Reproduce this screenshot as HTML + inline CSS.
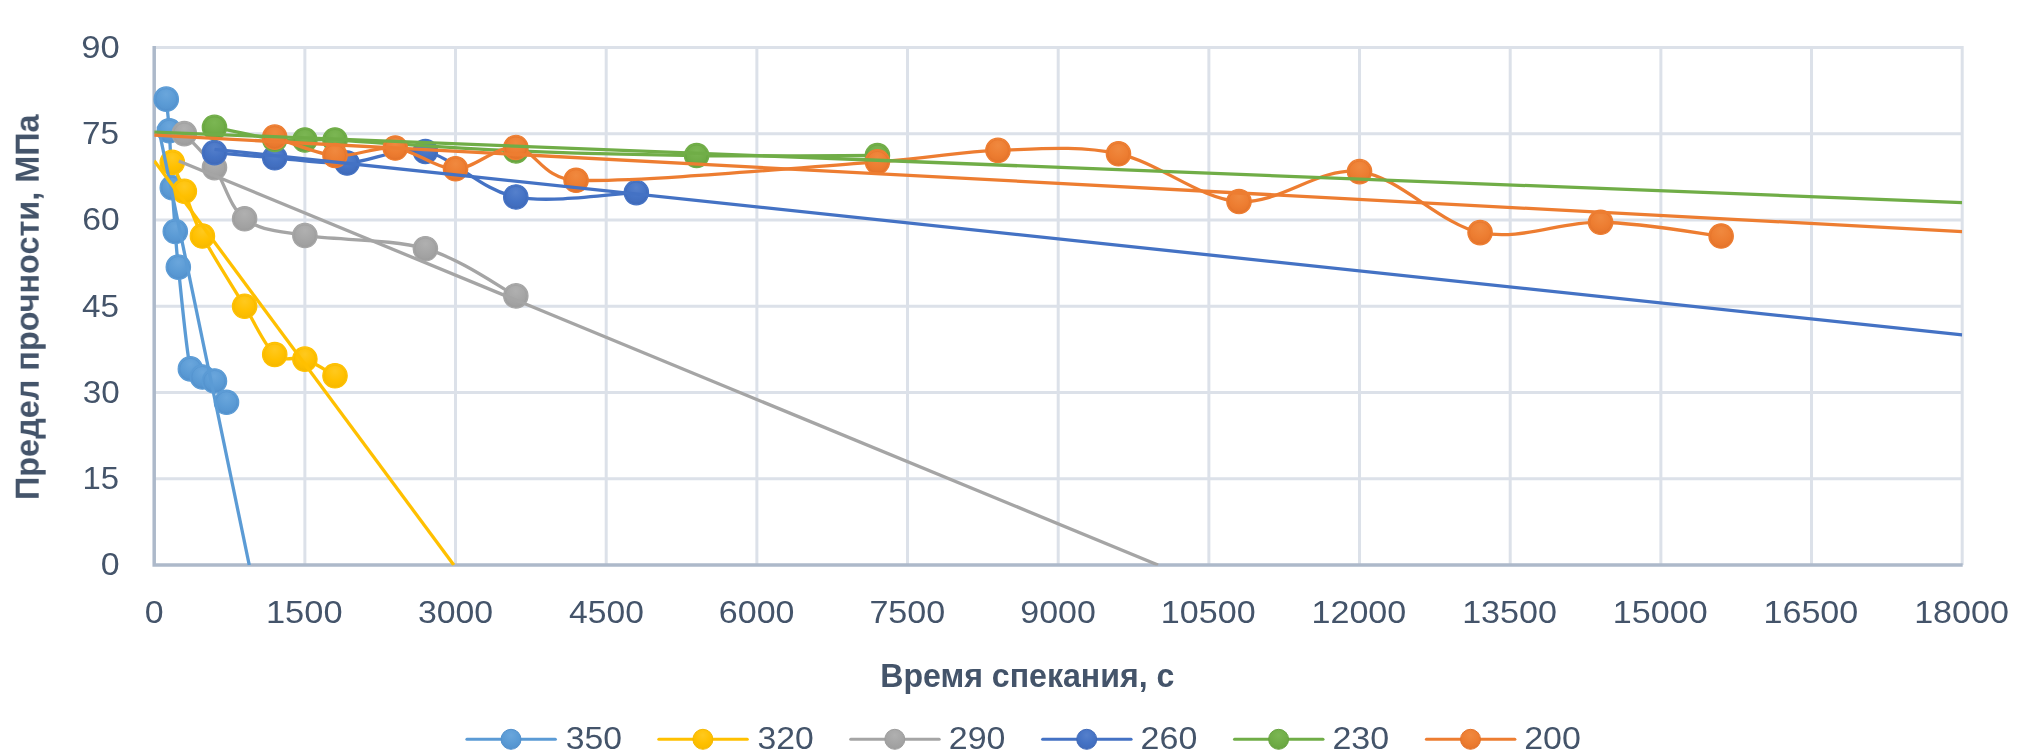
<!DOCTYPE html><html><head><meta charset="utf-8"><style>html,body{margin:0;padding:0;background:#fff;}svg{display:block}text{will-change:transform}</style></head><body>
<svg width="2020" height="756" viewBox="0 0 2020 756">
<defs>
<radialGradient id="g350" cx="0.5" cy="0.3" r="0.75"><stop offset="0" stop-color="#6AA6DC"/><stop offset="0.55" stop-color="#5B9BD5"/><stop offset="1" stop-color="#5290CC"/></radialGradient>
<radialGradient id="g320" cx="0.5" cy="0.3" r="0.75"><stop offset="0" stop-color="#FFC91F"/><stop offset="0.55" stop-color="#FFC000"/><stop offset="1" stop-color="#F5B800"/></radialGradient>
<radialGradient id="g290" cx="0.5" cy="0.3" r="0.75"><stop offset="0" stop-color="#B0B0B0"/><stop offset="0.55" stop-color="#A5A5A5"/><stop offset="1" stop-color="#9C9C9C"/></radialGradient>
<radialGradient id="g260" cx="0.5" cy="0.3" r="0.75"><stop offset="0" stop-color="#5580CC"/><stop offset="0.55" stop-color="#4472C4"/><stop offset="1" stop-color="#3F69B8"/></radialGradient>
<radialGradient id="g230" cx="0.5" cy="0.3" r="0.75"><stop offset="0" stop-color="#7BB653"/><stop offset="0.55" stop-color="#70AD47"/><stop offset="1" stop-color="#66A23F"/></radialGradient>
<radialGradient id="g200" cx="0.5" cy="0.3" r="0.75"><stop offset="0" stop-color="#F0893F"/><stop offset="0.55" stop-color="#ED7D31"/><stop offset="1" stop-color="#E3722A"/></radialGradient>
<clipPath id="pa"><rect x="154.2" y="45.9" width="1808.0" height="519.6"/></clipPath>
</defs>
<rect width="2020" height="756" fill="#fff"/>
<path d="M304.87,47.40V565.00 M455.53,47.40V565.00 M606.20,47.40V565.00 M756.87,47.40V565.00 M907.53,47.40V565.00 M1058.20,47.40V565.00 M1208.87,47.40V565.00 M1359.53,47.40V565.00 M1510.20,47.40V565.00 M1660.87,47.40V565.00 M1811.53,47.40V565.00 M1962.20,47.40V565.00 M154.20,478.73H1963.70 M154.20,392.47H1963.70 M154.20,306.20H1963.70 M154.20,219.93H1963.70 M154.20,133.67H1963.70 M154.20,47.40H1963.70" stroke="#DCE1E9" stroke-width="3" fill="none"/>
<path d="M154.20,45.90V565.00H1962.70" stroke="#ADB9CA" stroke-width="3.5" fill="none"/>
<path d="M166.25,99.16 C166.76,104.43 168.26,116.03 169.27,130.79 C170.27,145.55 171.28,170.95 172.28,187.73 C173.28,204.50 174.29,218.21 175.29,231.44 C176.30,244.66 176.36,249.31 178.31,267.09 C180.82,290.00 186.34,350.58 190.36,368.89 C191.91,375.97 198.40,374.93 202.41,376.94 C206.43,378.95 210.45,376.75 214.47,380.96 C218.48,385.18 224.51,398.70 226.52,402.24" stroke="#5B9BD5" stroke-width="3.3" fill="none" stroke-linejoin="round" stroke-linecap="round"/>
<circle cx="166.25" cy="99.16" r="12.20" fill="url(#g350)" stroke="#5B9BD5" stroke-width="1.2"/>
<circle cx="166.25" cy="99.16" r="10.50" fill="none" stroke="#5290CC" stroke-width="1" stroke-opacity="0.55"/>
<circle cx="169.27" cy="130.79" r="12.20" fill="url(#g350)" stroke="#5B9BD5" stroke-width="1.2"/>
<circle cx="169.27" cy="130.79" r="10.50" fill="none" stroke="#5290CC" stroke-width="1" stroke-opacity="0.55"/>
<circle cx="172.28" cy="187.73" r="12.20" fill="url(#g350)" stroke="#5B9BD5" stroke-width="1.2"/>
<circle cx="172.28" cy="187.73" r="10.50" fill="none" stroke="#5290CC" stroke-width="1" stroke-opacity="0.55"/>
<circle cx="175.29" cy="231.44" r="12.20" fill="url(#g350)" stroke="#5B9BD5" stroke-width="1.2"/>
<circle cx="175.29" cy="231.44" r="10.50" fill="none" stroke="#5290CC" stroke-width="1" stroke-opacity="0.55"/>
<circle cx="178.31" cy="267.09" r="12.20" fill="url(#g350)" stroke="#5B9BD5" stroke-width="1.2"/>
<circle cx="178.31" cy="267.09" r="10.50" fill="none" stroke="#5290CC" stroke-width="1" stroke-opacity="0.55"/>
<circle cx="190.36" cy="368.89" r="12.20" fill="url(#g350)" stroke="#5B9BD5" stroke-width="1.2"/>
<circle cx="190.36" cy="368.89" r="10.50" fill="none" stroke="#5290CC" stroke-width="1" stroke-opacity="0.55"/>
<circle cx="202.41" cy="376.94" r="12.20" fill="url(#g350)" stroke="#5B9BD5" stroke-width="1.2"/>
<circle cx="202.41" cy="376.94" r="10.50" fill="none" stroke="#5290CC" stroke-width="1" stroke-opacity="0.55"/>
<circle cx="214.47" cy="380.96" r="12.20" fill="url(#g350)" stroke="#5B9BD5" stroke-width="1.2"/>
<circle cx="214.47" cy="380.96" r="10.50" fill="none" stroke="#5290CC" stroke-width="1" stroke-opacity="0.55"/>
<circle cx="226.52" cy="402.24" r="12.20" fill="url(#g350)" stroke="#5B9BD5" stroke-width="1.2"/>
<circle cx="226.52" cy="402.24" r="10.50" fill="none" stroke="#5290CC" stroke-width="1" stroke-opacity="0.55"/>
<path d="M172.28,162.42 C174.29,167.21 179.31,178.91 184.33,191.18 C189.36,203.45 192.37,216.87 202.41,236.04 C212.46,255.21 232.55,286.45 244.60,306.20 C256.65,325.95 264.69,345.69 274.73,354.51 C284.78,363.33 294.82,355.56 304.87,359.11 C314.91,362.66 329.98,373.01 335.00,375.79" stroke="#FFC000" stroke-width="3.3" fill="none" stroke-linejoin="round" stroke-linecap="round"/>
<circle cx="172.28" cy="162.42" r="12.20" fill="url(#g320)" stroke="#FFC000" stroke-width="1.2"/>
<circle cx="172.28" cy="162.42" r="10.50" fill="none" stroke="#F5B800" stroke-width="1" stroke-opacity="0.55"/>
<circle cx="184.33" cy="191.18" r="12.20" fill="url(#g320)" stroke="#FFC000" stroke-width="1.2"/>
<circle cx="184.33" cy="191.18" r="10.50" fill="none" stroke="#F5B800" stroke-width="1" stroke-opacity="0.55"/>
<circle cx="202.41" cy="236.04" r="12.20" fill="url(#g320)" stroke="#FFC000" stroke-width="1.2"/>
<circle cx="202.41" cy="236.04" r="10.50" fill="none" stroke="#F5B800" stroke-width="1" stroke-opacity="0.55"/>
<circle cx="244.60" cy="306.20" r="12.20" fill="url(#g320)" stroke="#FFC000" stroke-width="1.2"/>
<circle cx="244.60" cy="306.20" r="10.50" fill="none" stroke="#F5B800" stroke-width="1" stroke-opacity="0.55"/>
<circle cx="274.73" cy="354.51" r="12.20" fill="url(#g320)" stroke="#FFC000" stroke-width="1.2"/>
<circle cx="274.73" cy="354.51" r="10.50" fill="none" stroke="#F5B800" stroke-width="1" stroke-opacity="0.55"/>
<circle cx="304.87" cy="359.11" r="12.20" fill="url(#g320)" stroke="#FFC000" stroke-width="1.2"/>
<circle cx="304.87" cy="359.11" r="10.50" fill="none" stroke="#F5B800" stroke-width="1" stroke-opacity="0.55"/>
<circle cx="335.00" cy="375.79" r="12.20" fill="url(#g320)" stroke="#FFC000" stroke-width="1.2"/>
<circle cx="335.00" cy="375.79" r="10.50" fill="none" stroke="#F5B800" stroke-width="1" stroke-opacity="0.55"/>
<path d="M184.33,133.67 C189.36,139.32 204.42,153.41 214.47,167.60 C224.51,181.78 229.53,207.47 244.60,218.78 C259.67,230.09 274.73,230.48 304.87,235.46 C335.00,240.45 390.24,238.62 425.40,248.69 C460.56,258.75 500.73,287.99 515.80,295.85" stroke="#A5A5A5" stroke-width="3.3" fill="none" stroke-linejoin="round" stroke-linecap="round"/>
<circle cx="184.33" cy="133.67" r="12.20" fill="url(#g290)" stroke="#A5A5A5" stroke-width="1.2"/>
<circle cx="184.33" cy="133.67" r="10.50" fill="none" stroke="#9C9C9C" stroke-width="1" stroke-opacity="0.55"/>
<circle cx="214.47" cy="167.60" r="12.20" fill="url(#g290)" stroke="#A5A5A5" stroke-width="1.2"/>
<circle cx="214.47" cy="167.60" r="10.50" fill="none" stroke="#9C9C9C" stroke-width="1" stroke-opacity="0.55"/>
<circle cx="244.60" cy="218.78" r="12.20" fill="url(#g290)" stroke="#A5A5A5" stroke-width="1.2"/>
<circle cx="244.60" cy="218.78" r="10.50" fill="none" stroke="#9C9C9C" stroke-width="1" stroke-opacity="0.55"/>
<circle cx="304.87" cy="235.46" r="12.20" fill="url(#g290)" stroke="#A5A5A5" stroke-width="1.2"/>
<circle cx="304.87" cy="235.46" r="10.50" fill="none" stroke="#9C9C9C" stroke-width="1" stroke-opacity="0.55"/>
<circle cx="425.40" cy="248.69" r="12.20" fill="url(#g290)" stroke="#A5A5A5" stroke-width="1.2"/>
<circle cx="425.40" cy="248.69" r="10.50" fill="none" stroke="#9C9C9C" stroke-width="1" stroke-opacity="0.55"/>
<circle cx="515.80" cy="295.85" r="12.20" fill="url(#g290)" stroke="#A5A5A5" stroke-width="1.2"/>
<circle cx="515.80" cy="295.85" r="10.50" fill="none" stroke="#9C9C9C" stroke-width="1" stroke-opacity="0.55"/>
<path d="M214.47,152.65 C224.51,153.51 252.64,156.10 274.73,157.82 C296.83,159.55 321.94,164.05 347.05,163.00 C372.16,161.94 397.28,145.84 425.40,151.50 C453.52,157.15 480.64,190.08 515.80,196.93 C550.96,203.78 616.24,193.33 636.33,192.62" stroke="#4472C4" stroke-width="3.3" fill="none" stroke-linejoin="round" stroke-linecap="round"/>
<circle cx="214.47" cy="152.65" r="12.20" fill="url(#g260)" stroke="#4472C4" stroke-width="1.2"/>
<circle cx="214.47" cy="152.65" r="10.50" fill="none" stroke="#3F69B8" stroke-width="1" stroke-opacity="0.55"/>
<circle cx="274.73" cy="157.82" r="12.20" fill="url(#g260)" stroke="#4472C4" stroke-width="1.2"/>
<circle cx="274.73" cy="157.82" r="10.50" fill="none" stroke="#3F69B8" stroke-width="1" stroke-opacity="0.55"/>
<circle cx="347.05" cy="163.00" r="12.20" fill="url(#g260)" stroke="#4472C4" stroke-width="1.2"/>
<circle cx="347.05" cy="163.00" r="10.50" fill="none" stroke="#3F69B8" stroke-width="1" stroke-opacity="0.55"/>
<circle cx="425.40" cy="151.50" r="12.20" fill="url(#g260)" stroke="#4472C4" stroke-width="1.2"/>
<circle cx="425.40" cy="151.50" r="10.50" fill="none" stroke="#3F69B8" stroke-width="1" stroke-opacity="0.55"/>
<circle cx="515.80" cy="196.93" r="12.20" fill="url(#g260)" stroke="#4472C4" stroke-width="1.2"/>
<circle cx="515.80" cy="196.93" r="10.50" fill="none" stroke="#3F69B8" stroke-width="1" stroke-opacity="0.55"/>
<circle cx="636.33" cy="192.62" r="12.20" fill="url(#g260)" stroke="#4472C4" stroke-width="1.2"/>
<circle cx="636.33" cy="192.62" r="10.50" fill="none" stroke="#3F69B8" stroke-width="1" stroke-opacity="0.55"/>
<path d="M214.47,127.34 C224.51,129.35 259.67,137.31 274.73,139.42 C289.66,141.51 294.82,139.90 304.87,139.99 C314.91,140.09 319.95,139.21 335.00,139.99 C370.16,141.81 455.53,148.33 515.80,150.92 C576.07,153.51 636.33,154.75 696.60,155.52 C756.87,156.29 847.27,155.52 877.40,155.52" stroke="#70AD47" stroke-width="3.3" fill="none" stroke-linejoin="round" stroke-linecap="round"/>
<circle cx="214.47" cy="127.34" r="12.20" fill="url(#g230)" stroke="#70AD47" stroke-width="1.2"/>
<circle cx="214.47" cy="127.34" r="10.50" fill="none" stroke="#66A23F" stroke-width="1" stroke-opacity="0.55"/>
<circle cx="274.73" cy="139.42" r="12.20" fill="url(#g230)" stroke="#70AD47" stroke-width="1.2"/>
<circle cx="274.73" cy="139.42" r="10.50" fill="none" stroke="#66A23F" stroke-width="1" stroke-opacity="0.55"/>
<circle cx="304.87" cy="139.99" r="12.20" fill="url(#g230)" stroke="#70AD47" stroke-width="1.2"/>
<circle cx="304.87" cy="139.99" r="10.50" fill="none" stroke="#66A23F" stroke-width="1" stroke-opacity="0.55"/>
<circle cx="335.00" cy="139.99" r="12.20" fill="url(#g230)" stroke="#70AD47" stroke-width="1.2"/>
<circle cx="335.00" cy="139.99" r="10.50" fill="none" stroke="#66A23F" stroke-width="1" stroke-opacity="0.55"/>
<circle cx="515.80" cy="150.92" r="12.20" fill="url(#g230)" stroke="#70AD47" stroke-width="1.2"/>
<circle cx="515.80" cy="150.92" r="10.50" fill="none" stroke="#66A23F" stroke-width="1" stroke-opacity="0.55"/>
<circle cx="696.60" cy="155.52" r="12.20" fill="url(#g230)" stroke="#70AD47" stroke-width="1.2"/>
<circle cx="696.60" cy="155.52" r="10.50" fill="none" stroke="#66A23F" stroke-width="1" stroke-opacity="0.55"/>
<circle cx="877.40" cy="155.52" r="12.20" fill="url(#g230)" stroke="#70AD47" stroke-width="1.2"/>
<circle cx="877.40" cy="155.52" r="10.50" fill="none" stroke="#66A23F" stroke-width="1" stroke-opacity="0.55"/>
<path d="M274.73,137.12 C284.78,140.18 314.91,153.70 335.00,155.52 C355.09,157.34 375.18,145.84 395.27,148.04 C415.36,150.25 435.44,168.84 455.53,168.75 C475.62,168.65 495.71,145.55 515.80,147.47 C535.89,149.39 541.79,178.89 576.07,180.25 C636.33,182.65 807.09,166.83 877.40,161.85 C937.79,157.57 957.76,151.69 997.93,150.34 C1038.11,149.00 1078.29,145.26 1118.47,153.80 C1158.64,162.33 1198.82,198.56 1239.00,201.53 C1279.18,204.50 1319.36,166.45 1359.53,171.62 C1399.71,176.80 1439.89,224.15 1480.07,232.59 C1520.24,241.02 1560.42,221.66 1600.60,222.23 C1640.78,222.81 1701.04,233.74 1721.13,236.04" stroke="#ED7D31" stroke-width="3.3" fill="none" stroke-linejoin="round" stroke-linecap="round"/>
<circle cx="274.73" cy="137.12" r="12.20" fill="url(#g200)" stroke="#ED7D31" stroke-width="1.2"/>
<circle cx="274.73" cy="137.12" r="10.50" fill="none" stroke="#E3722A" stroke-width="1" stroke-opacity="0.55"/>
<circle cx="335.00" cy="155.52" r="12.20" fill="url(#g200)" stroke="#ED7D31" stroke-width="1.2"/>
<circle cx="335.00" cy="155.52" r="10.50" fill="none" stroke="#E3722A" stroke-width="1" stroke-opacity="0.55"/>
<circle cx="395.27" cy="148.04" r="12.20" fill="url(#g200)" stroke="#ED7D31" stroke-width="1.2"/>
<circle cx="395.27" cy="148.04" r="10.50" fill="none" stroke="#E3722A" stroke-width="1" stroke-opacity="0.55"/>
<circle cx="455.53" cy="168.75" r="12.20" fill="url(#g200)" stroke="#ED7D31" stroke-width="1.2"/>
<circle cx="455.53" cy="168.75" r="10.50" fill="none" stroke="#E3722A" stroke-width="1" stroke-opacity="0.55"/>
<circle cx="515.80" cy="147.47" r="12.20" fill="url(#g200)" stroke="#ED7D31" stroke-width="1.2"/>
<circle cx="515.80" cy="147.47" r="10.50" fill="none" stroke="#E3722A" stroke-width="1" stroke-opacity="0.55"/>
<circle cx="576.07" cy="180.25" r="12.20" fill="url(#g200)" stroke="#ED7D31" stroke-width="1.2"/>
<circle cx="576.07" cy="180.25" r="10.50" fill="none" stroke="#E3722A" stroke-width="1" stroke-opacity="0.55"/>
<circle cx="877.40" cy="161.85" r="12.20" fill="url(#g200)" stroke="#ED7D31" stroke-width="1.2"/>
<circle cx="877.40" cy="161.85" r="10.50" fill="none" stroke="#E3722A" stroke-width="1" stroke-opacity="0.55"/>
<circle cx="997.93" cy="150.34" r="12.20" fill="url(#g200)" stroke="#ED7D31" stroke-width="1.2"/>
<circle cx="997.93" cy="150.34" r="10.50" fill="none" stroke="#E3722A" stroke-width="1" stroke-opacity="0.55"/>
<circle cx="1118.47" cy="153.80" r="12.20" fill="url(#g200)" stroke="#ED7D31" stroke-width="1.2"/>
<circle cx="1118.47" cy="153.80" r="10.50" fill="none" stroke="#E3722A" stroke-width="1" stroke-opacity="0.55"/>
<circle cx="1239.00" cy="201.53" r="12.20" fill="url(#g200)" stroke="#ED7D31" stroke-width="1.2"/>
<circle cx="1239.00" cy="201.53" r="10.50" fill="none" stroke="#E3722A" stroke-width="1" stroke-opacity="0.55"/>
<circle cx="1359.53" cy="171.62" r="12.20" fill="url(#g200)" stroke="#ED7D31" stroke-width="1.2"/>
<circle cx="1359.53" cy="171.62" r="10.50" fill="none" stroke="#E3722A" stroke-width="1" stroke-opacity="0.55"/>
<circle cx="1480.07" cy="232.59" r="12.20" fill="url(#g200)" stroke="#ED7D31" stroke-width="1.2"/>
<circle cx="1480.07" cy="232.59" r="10.50" fill="none" stroke="#E3722A" stroke-width="1" stroke-opacity="0.55"/>
<circle cx="1600.60" cy="222.23" r="12.20" fill="url(#g200)" stroke="#ED7D31" stroke-width="1.2"/>
<circle cx="1600.60" cy="222.23" r="10.50" fill="none" stroke="#E3722A" stroke-width="1" stroke-opacity="0.55"/>
<circle cx="1721.13" cy="236.04" r="12.20" fill="url(#g200)" stroke="#ED7D31" stroke-width="1.2"/>
<circle cx="1721.13" cy="236.04" r="10.50" fill="none" stroke="#E3722A" stroke-width="1" stroke-opacity="0.55"/>
<line x1="158.22" y1="126.53" x2="249.24" y2="565.00" stroke="#5B9BD5" stroke-width="3.3" stroke-linecap="butt" clip-path="url(#pa)"/>
<line x1="154.20" y1="160.84" x2="453.80" y2="565.00" stroke="#FFC000" stroke-width="3.3" stroke-linecap="butt" clip-path="url(#pa)"/>
<line x1="178.81" y1="160.98" x2="1158.01" y2="565.00" stroke="#A5A5A5" stroke-width="3.3" stroke-linecap="butt" clip-path="url(#pa)"/>
<line x1="214.47" y1="149.27" x2="1962.20" y2="334.93" stroke="#4472C4" stroke-width="3.3" stroke-linecap="butt" clip-path="url(#pa)"/>
<line x1="154.20" y1="132.06" x2="1962.20" y2="202.55" stroke="#70AD47" stroke-width="3.3" stroke-linecap="butt" clip-path="url(#pa)"/>
<line x1="154.20" y1="135.17" x2="1962.20" y2="231.53" stroke="#ED7D31" stroke-width="3.3" stroke-linecap="butt" clip-path="url(#pa)"/>
<g transform="translate(81.35,57.80) scale(1.0926,1)"><text font-family="Liberation Sans, Arial, sans-serif" font-size="31.70" font-weight="normal" fill="#44546A" x="0" y="0">90</text></g>
<g transform="translate(81.95,144.07) scale(1.0510,1)"><text font-family="Liberation Sans, Arial, sans-serif" font-size="31.70" font-weight="normal" fill="#44546A" x="0" y="0">75</text></g>
<g transform="translate(82.32,230.33) scale(1.0613,1)"><text font-family="Liberation Sans, Arial, sans-serif" font-size="31.70" font-weight="normal" fill="#44546A" x="0" y="0">60</text></g>
<g transform="translate(82.05,316.60) scale(1.0480,1)"><text font-family="Liberation Sans, Arial, sans-serif" font-size="31.70" font-weight="normal" fill="#44546A" x="0" y="0">45</text></g>
<g transform="translate(82.65,402.87) scale(1.0485,1)"><text font-family="Liberation Sans, Arial, sans-serif" font-size="31.70" font-weight="normal" fill="#44546A" x="0" y="0">30</text></g>
<g transform="translate(82.44,489.13) scale(1.0367,1)"><text font-family="Liberation Sans, Arial, sans-serif" font-size="31.70" font-weight="normal" fill="#44546A" x="0" y="0">15</text></g>
<g transform="translate(100.84,575.40) scale(1.0702,1)"><text font-family="Liberation Sans, Arial, sans-serif" font-size="31.70" font-weight="normal" fill="#44546A" x="0" y="0">0</text></g>
<g transform="translate(144.74,623.10) scale(1.0702,1)"><text font-family="Liberation Sans, Arial, sans-serif" font-size="31.70" font-weight="normal" fill="#44546A" x="0" y="0">0</text></g>
<g transform="translate(265.93,623.10) scale(1.0869,1)"><text font-family="Liberation Sans, Arial, sans-serif" font-size="31.70" font-weight="normal" fill="#44546A" x="0" y="0">1500</text></g>
<g transform="translate(417.91,623.10) scale(1.0679,1)"><text font-family="Liberation Sans, Arial, sans-serif" font-size="31.70" font-weight="normal" fill="#44546A" x="0" y="0">3000</text></g>
<g transform="translate(569.09,623.10) scale(1.0605,1)"><text font-family="Liberation Sans, Arial, sans-serif" font-size="31.70" font-weight="normal" fill="#44546A" x="0" y="0">4500</text></g>
<g transform="translate(718.81,623.10) scale(1.0742,1)"><text font-family="Liberation Sans, Arial, sans-serif" font-size="31.70" font-weight="normal" fill="#44546A" x="0" y="0">6000</text></g>
<g transform="translate(869.39,623.10) scale(1.0754,1)"><text font-family="Liberation Sans, Arial, sans-serif" font-size="31.70" font-weight="normal" fill="#44546A" x="0" y="0">7500</text></g>
<g transform="translate(1020.23,623.10) scale(1.0729,1)"><text font-family="Liberation Sans, Arial, sans-serif" font-size="31.70" font-weight="normal" fill="#44546A" x="0" y="0">9000</text></g>
<g transform="translate(1160.81,623.10) scale(1.0762,1)"><text font-family="Liberation Sans, Arial, sans-serif" font-size="31.70" font-weight="normal" fill="#44546A" x="0" y="0">10500</text></g>
<g transform="translate(1311.47,623.10) scale(1.0762,1)"><text font-family="Liberation Sans, Arial, sans-serif" font-size="31.70" font-weight="normal" fill="#44546A" x="0" y="0">12000</text></g>
<g transform="translate(1462.14,623.10) scale(1.0762,1)"><text font-family="Liberation Sans, Arial, sans-serif" font-size="31.70" font-weight="normal" fill="#44546A" x="0" y="0">13500</text></g>
<g transform="translate(1612.81,623.10) scale(1.0762,1)"><text font-family="Liberation Sans, Arial, sans-serif" font-size="31.70" font-weight="normal" fill="#44546A" x="0" y="0">15000</text></g>
<g transform="translate(1763.47,623.10) scale(1.0762,1)"><text font-family="Liberation Sans, Arial, sans-serif" font-size="31.70" font-weight="normal" fill="#44546A" x="0" y="0">16500</text></g>
<g transform="translate(1914.14,623.10) scale(1.0762,1)"><text font-family="Liberation Sans, Arial, sans-serif" font-size="31.70" font-weight="normal" fill="#44546A" x="0" y="0">18000</text></g>
<g transform="translate(880.23,686.60) scale(0.9851,1)"><text font-family="Liberation Sans, Arial, sans-serif" font-size="32.60" font-weight="bold" fill="#44546A" x="0" y="0">Время спекания, с</text></g>
<g transform="translate(38.70,499.99) rotate(-90) scale(0.9948,1)"><text font-family="Liberation Sans, Arial, sans-serif" font-size="32.60" font-weight="bold" fill="#44546A" x="0" y="0">Предел прочности, МПа</text></g>
<line x1="466.9" y1="739.3" x2="555.4" y2="739.3" stroke="#5B9BD5" stroke-width="3" stroke-linecap="round"/>
<circle cx="511.0" cy="739.3" r="10" fill="url(#g350)" stroke="#5290CC" stroke-width="1"/>
<g transform="translate(565.64,749.00) scale(1.0637,1)"><text font-family="Liberation Sans, Arial, sans-serif" font-size="31.70" font-weight="normal" fill="#44546A" x="0" y="0">350</text></g>
<line x1="658.8" y1="739.3" x2="747.3" y2="739.3" stroke="#FFC000" stroke-width="3" stroke-linecap="round"/>
<circle cx="702.9" cy="739.3" r="10" fill="url(#g320)" stroke="#F5B800" stroke-width="1"/>
<g transform="translate(757.44,749.00) scale(1.0637,1)"><text font-family="Liberation Sans, Arial, sans-serif" font-size="31.70" font-weight="normal" fill="#44546A" x="0" y="0">320</text></g>
<line x1="850.7" y1="739.3" x2="939.2" y2="739.3" stroke="#A5A5A5" stroke-width="3" stroke-linecap="round"/>
<circle cx="894.8" cy="739.3" r="10" fill="url(#g290)" stroke="#9C9C9C" stroke-width="1"/>
<g transform="translate(948.80,749.00) scale(1.0722,1)"><text font-family="Liberation Sans, Arial, sans-serif" font-size="31.70" font-weight="normal" fill="#44546A" x="0" y="0">290</text></g>
<line x1="1042.6" y1="739.3" x2="1131.1" y2="739.3" stroke="#4472C4" stroke-width="3" stroke-linecap="round"/>
<circle cx="1086.7" cy="739.3" r="10" fill="url(#g260)" stroke="#3F69B8" stroke-width="1"/>
<g transform="translate(1140.60,749.00) scale(1.0722,1)"><text font-family="Liberation Sans, Arial, sans-serif" font-size="31.70" font-weight="normal" fill="#44546A" x="0" y="0">260</text></g>
<line x1="1234.5" y1="739.3" x2="1323.0" y2="739.3" stroke="#70AD47" stroke-width="3" stroke-linecap="round"/>
<circle cx="1278.6" cy="739.3" r="10" fill="url(#g230)" stroke="#66A23F" stroke-width="1"/>
<g transform="translate(1332.40,749.00) scale(1.0722,1)"><text font-family="Liberation Sans, Arial, sans-serif" font-size="31.70" font-weight="normal" fill="#44546A" x="0" y="0">230</text></g>
<line x1="1426.4" y1="739.3" x2="1514.9" y2="739.3" stroke="#ED7D31" stroke-width="3" stroke-linecap="round"/>
<circle cx="1470.5" cy="739.3" r="10" fill="url(#g200)" stroke="#E3722A" stroke-width="1"/>
<g transform="translate(1524.20,749.00) scale(1.0722,1)"><text font-family="Liberation Sans, Arial, sans-serif" font-size="31.70" font-weight="normal" fill="#44546A" x="0" y="0">200</text></g>
</svg></body></html>
